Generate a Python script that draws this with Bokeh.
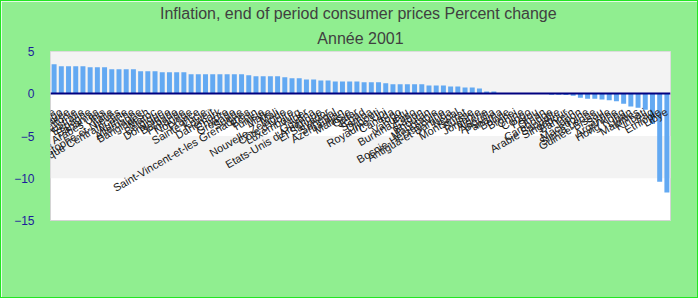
import math
from bokeh.plotting import figure
from bokeh.models import ColumnDataSource, Range1d, FactorRange, FixedTicker, Title
from bokeh.embed import file_html
from bokeh.resources import INLINE

countries = [
    "Géorgie", "Trinité-et-Tobago", "Corée", "Lettonie", "Australie", "Espagne",
    "Bahamas", "Emirats Arabes Unis", "Italie", "Saint-Christophe-et-Niévès",
    "République Centrafricaine", "Autriche", "Allemagne", "Bangladesh", "Maroc",
    "Belgique", "Dominique", "Barbade", "Finlande", "Norvège", "France",
    "Sainte-Lucie", "Koweït", "Danemark", "Chypre", "Grenade", "Suède",
    "Saint-Vincent-et-les Grenadines", "Bénin", "Tunisie", "Malte", "Mali",
    "Nouvelle-Zélande", "Côte d'Ivoire", "Luxembourg", "Niger", "Guyana",
    "Etats-Unis d'Amérique", "El Salvador", "Sénégal", "Azerbaïdjan", "Malaisie",
    "Qatar", "Tchad", "Samoa", "Djibouti", "Royaume-Uni", "Canada", "Togo",
    "Vanuatu", "Burkina Faso", "Gabon", "Bhoutan", "Mauritanie",
    "Bosnie-Herzégovine", "Antigua-et-Barbuda", "Népal", "Montserrat", "Suisse",
    "Jordanie", "Algérie", "Anguilla", "Panama", "Bolivie", "Brunei", "Chine",
    "Congo", "Pérou", "Oman", "Cambodge", "Arabie Saoudite", "Singapour",
    "Bahreïn", "Japon", "Macédoine", "Sierra Leone", "Guinée-Bissau", "Syrie",
    "Argentine", "Hong Kong", "Liban", "Maldives", "Kiribati", "Iraq",
    "Ethiopie", "Libye",
]

inflation = [
    3.49, 3.25, 3.25, 3.25, 3.25, 3.13, 3.13, 3.13, 2.89, 2.89,
    2.89, 2.89, 2.65, 2.65, 2.65, 2.54, 2.54, 2.54, 2.54, 2.30,
    2.30, 2.30, 2.30, 2.30, 2.30, 2.30, 2.30, 2.18, 2.06, 2.06,
    2.06, 2.06, 1.94, 1.82, 1.82, 1.70, 1.70, 1.58, 1.58, 1.46,
    1.46, 1.46, 1.46, 1.35, 1.35, 1.35, 1.23, 1.11, 1.11, 1.11,
    1.11, 1.11, 0.99, 0.99, 0.99, 0.87, 0.87, 0.75, 0.75, 0.63,
    0.27, 0.27, 0.0, 0.0, 0.0, 0.0, 0.0, 0.0, 0.0, -0.12,
    -0.12, -0.16, -0.24, -0.48, -0.6, -0.6, -0.68, -0.76, -0.88, -1.19,
    -1.51, -1.67, -1.9, -3.57, -10.4, -11.7,
]

y_ticks = [-15, -10, -5, 0, 5]

title_main = "Inflation, end of period consumer prices  Percent change"
title_sub = "Année 2001"

source = ColumnDataSource(data=dict(country=countries, value=inflation))

p = figure(
    x_range=FactorRange(factors=countries),
    y_range=Range1d(-15, 5),
    width=698, height=298,
    output_backend="svg", toolbar_location=None,
    min_border_left=49, min_border_right=29, min_border_bottom=79, min_border_top=0,
    background_fill_color="white", border_fill_color="#90EE90",
    title=title_main,
)
p.styles = {"border": "1px solid #22e622"}

p.title.align = "center"
p.title.text_font = "Liberation Sans"
p.title.text_font_size = "16px"
p.title.text_font_style = "normal"
p.title.text_color = "#404040"
p.title.standoff = 2

sub_title = Title(text=title_sub, align="center", text_font="Liberation Sans",
                  text_font_size="16px", text_font_style="normal",
                  text_color="#404040", standoff=10)
p.add_layout(sub_title, "above")

p.vbar(x="country", top="value", width=0.69, source=source,
       fill_color="#63a9f2", line_color=None)

p.outline_line_color = "#d4d4d4"

p.xgrid.visible = False
p.ygrid.grid_line_color = None
p.ygrid.band_fill_color = "#f3f3f3"
p.ygrid.band_fill_alpha = 1

p.yaxis.ticker = FixedTicker(ticks=y_ticks)
p.yaxis.axis_line_color = None
p.yaxis.major_tick_line_color = None
p.yaxis.minor_tick_line_color = None
p.yaxis.major_label_standoff = 10
p.yaxis.major_label_text_font = "Liberation Sans"
p.yaxis.major_label_text_font_size = "12px"
p.yaxis.major_label_text_color = "#1c1c9c"

xa = p.xaxis[0]
xa.fixed_location = 0
xa.axis_line_color = "#000080"
xa.axis_line_width = 2
xa.major_tick_line_color = None
xa.major_label_orientation = math.pi / 6
xa.major_label_standoff = 11
xa.major_label_text_font = "Liberation Sans"
xa.major_label_text_font_size = "11px"
xa.major_label_text_color = "#1a1a1a"

open("out.html", "w").write(file_html(p, INLINE))
